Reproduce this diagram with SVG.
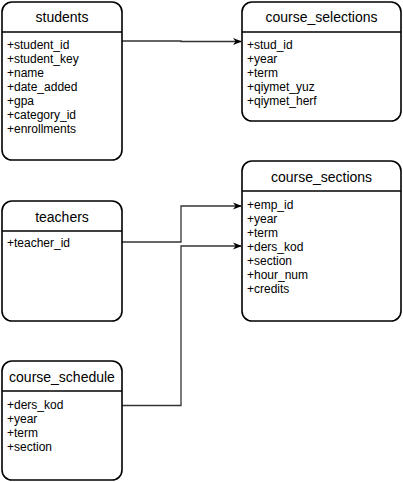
<svg xmlns="http://www.w3.org/2000/svg" width="403" height="482" viewBox="0 0 403 482">
<defs>
<marker id="arr" viewBox="0 0 10 10" refX="9" refY="5" markerWidth="9" markerHeight="9" markerUnits="userSpaceOnUse" orient="auto">
<path d="M0,1 L10,5 L0,9 L3,5 Z" fill="#000"/>
</marker>
<style>
.box{fill:#fff;stroke:#000;stroke-width:1.6}
.hl{stroke:#000;stroke-width:1.6}
.t{font-family:"Liberation Sans",Arial,Helvetica,sans-serif;font-size:14px;text-anchor:middle;fill:#000}
.a{font-family:"Liberation Sans",Arial,Helvetica,sans-serif;font-size:12px;fill:#000}
.c{fill:none;stroke:#333;stroke-width:1.3}
</style>
</defs>
<rect width="403" height="482" fill="#fff"/>
<g id="connectors">
<path class="c" d="M122,41 H181 V41.5 H241" marker-end="url(#arr)"/>
<path class="c" d="M122,242 H181 V206 H241" marker-end="url(#arr)"/>
<path class="c" d="M122,405.5 H181 V246 H241" marker-end="url(#arr)"/>
</g>
<g id="students">
<rect class="box" x="2" y="2" width="120" height="158" rx="10"/>
<line class="hl" x1="2" y1="32" x2="122" y2="32"/>
<text class="t" x="62" y="22">students</text>
<text class="a" x="7" y="49">+student_id</text>
<text class="a" x="7" y="63">+student_key</text>
<text class="a" x="7" y="77">+name</text>
<text class="a" x="7" y="91">+date_added</text>
<text class="a" x="7" y="105">+gpa</text>
<text class="a" x="7" y="119">+category_id</text>
<text class="a" x="7" y="133">+enrollments</text>
</g>
<g id="course_selections">
<rect class="box" x="242" y="2" width="159" height="119" rx="10"/>
<line class="hl" x1="242" y1="32" x2="401" y2="32"/>
<text class="t" x="321.5" y="22">course_selections</text>
<text class="a" x="247" y="49">+stud_id</text>
<text class="a" x="247" y="63">+year</text>
<text class="a" x="247" y="77">+term</text>
<text class="a" x="247" y="91">+qiymet_yuz</text>
<text class="a" x="247" y="105">+qiymet_herf</text>
</g>
<g id="teachers">
<rect class="box" x="2" y="201" width="120" height="120" rx="10"/>
<line class="hl" x1="2" y1="231" x2="122" y2="231"/>
<text class="t" x="62" y="222">teachers</text>
<text class="a" x="7" y="247">+teacher_id</text>
</g>
<g id="course_sections">
<rect class="box" x="242" y="161" width="159" height="160" rx="10"/>
<line class="hl" x1="242" y1="191" x2="401" y2="191"/>
<text class="t" x="321.5" y="182">course_sections</text>
<text class="a" x="247" y="209">+emp_id</text>
<text class="a" x="247" y="223">+year</text>
<text class="a" x="247" y="237">+term</text>
<text class="a" x="247" y="251">+ders_kod</text>
<text class="a" x="247" y="265">+section</text>
<text class="a" x="247" y="279">+hour_num</text>
<text class="a" x="247" y="293">+credits</text>
</g>
<g id="course_schedule">
<rect class="box" x="2" y="361" width="120" height="119" rx="10"/>
<line class="hl" x1="2" y1="391" x2="122" y2="391"/>
<text class="t" x="62" y="382">course_schedule</text>
<text class="a" x="7" y="409">+ders_kod</text>
<text class="a" x="7" y="423">+year</text>
<text class="a" x="7" y="437">+term</text>
<text class="a" x="7" y="451">+section</text>
</g>
</svg>
